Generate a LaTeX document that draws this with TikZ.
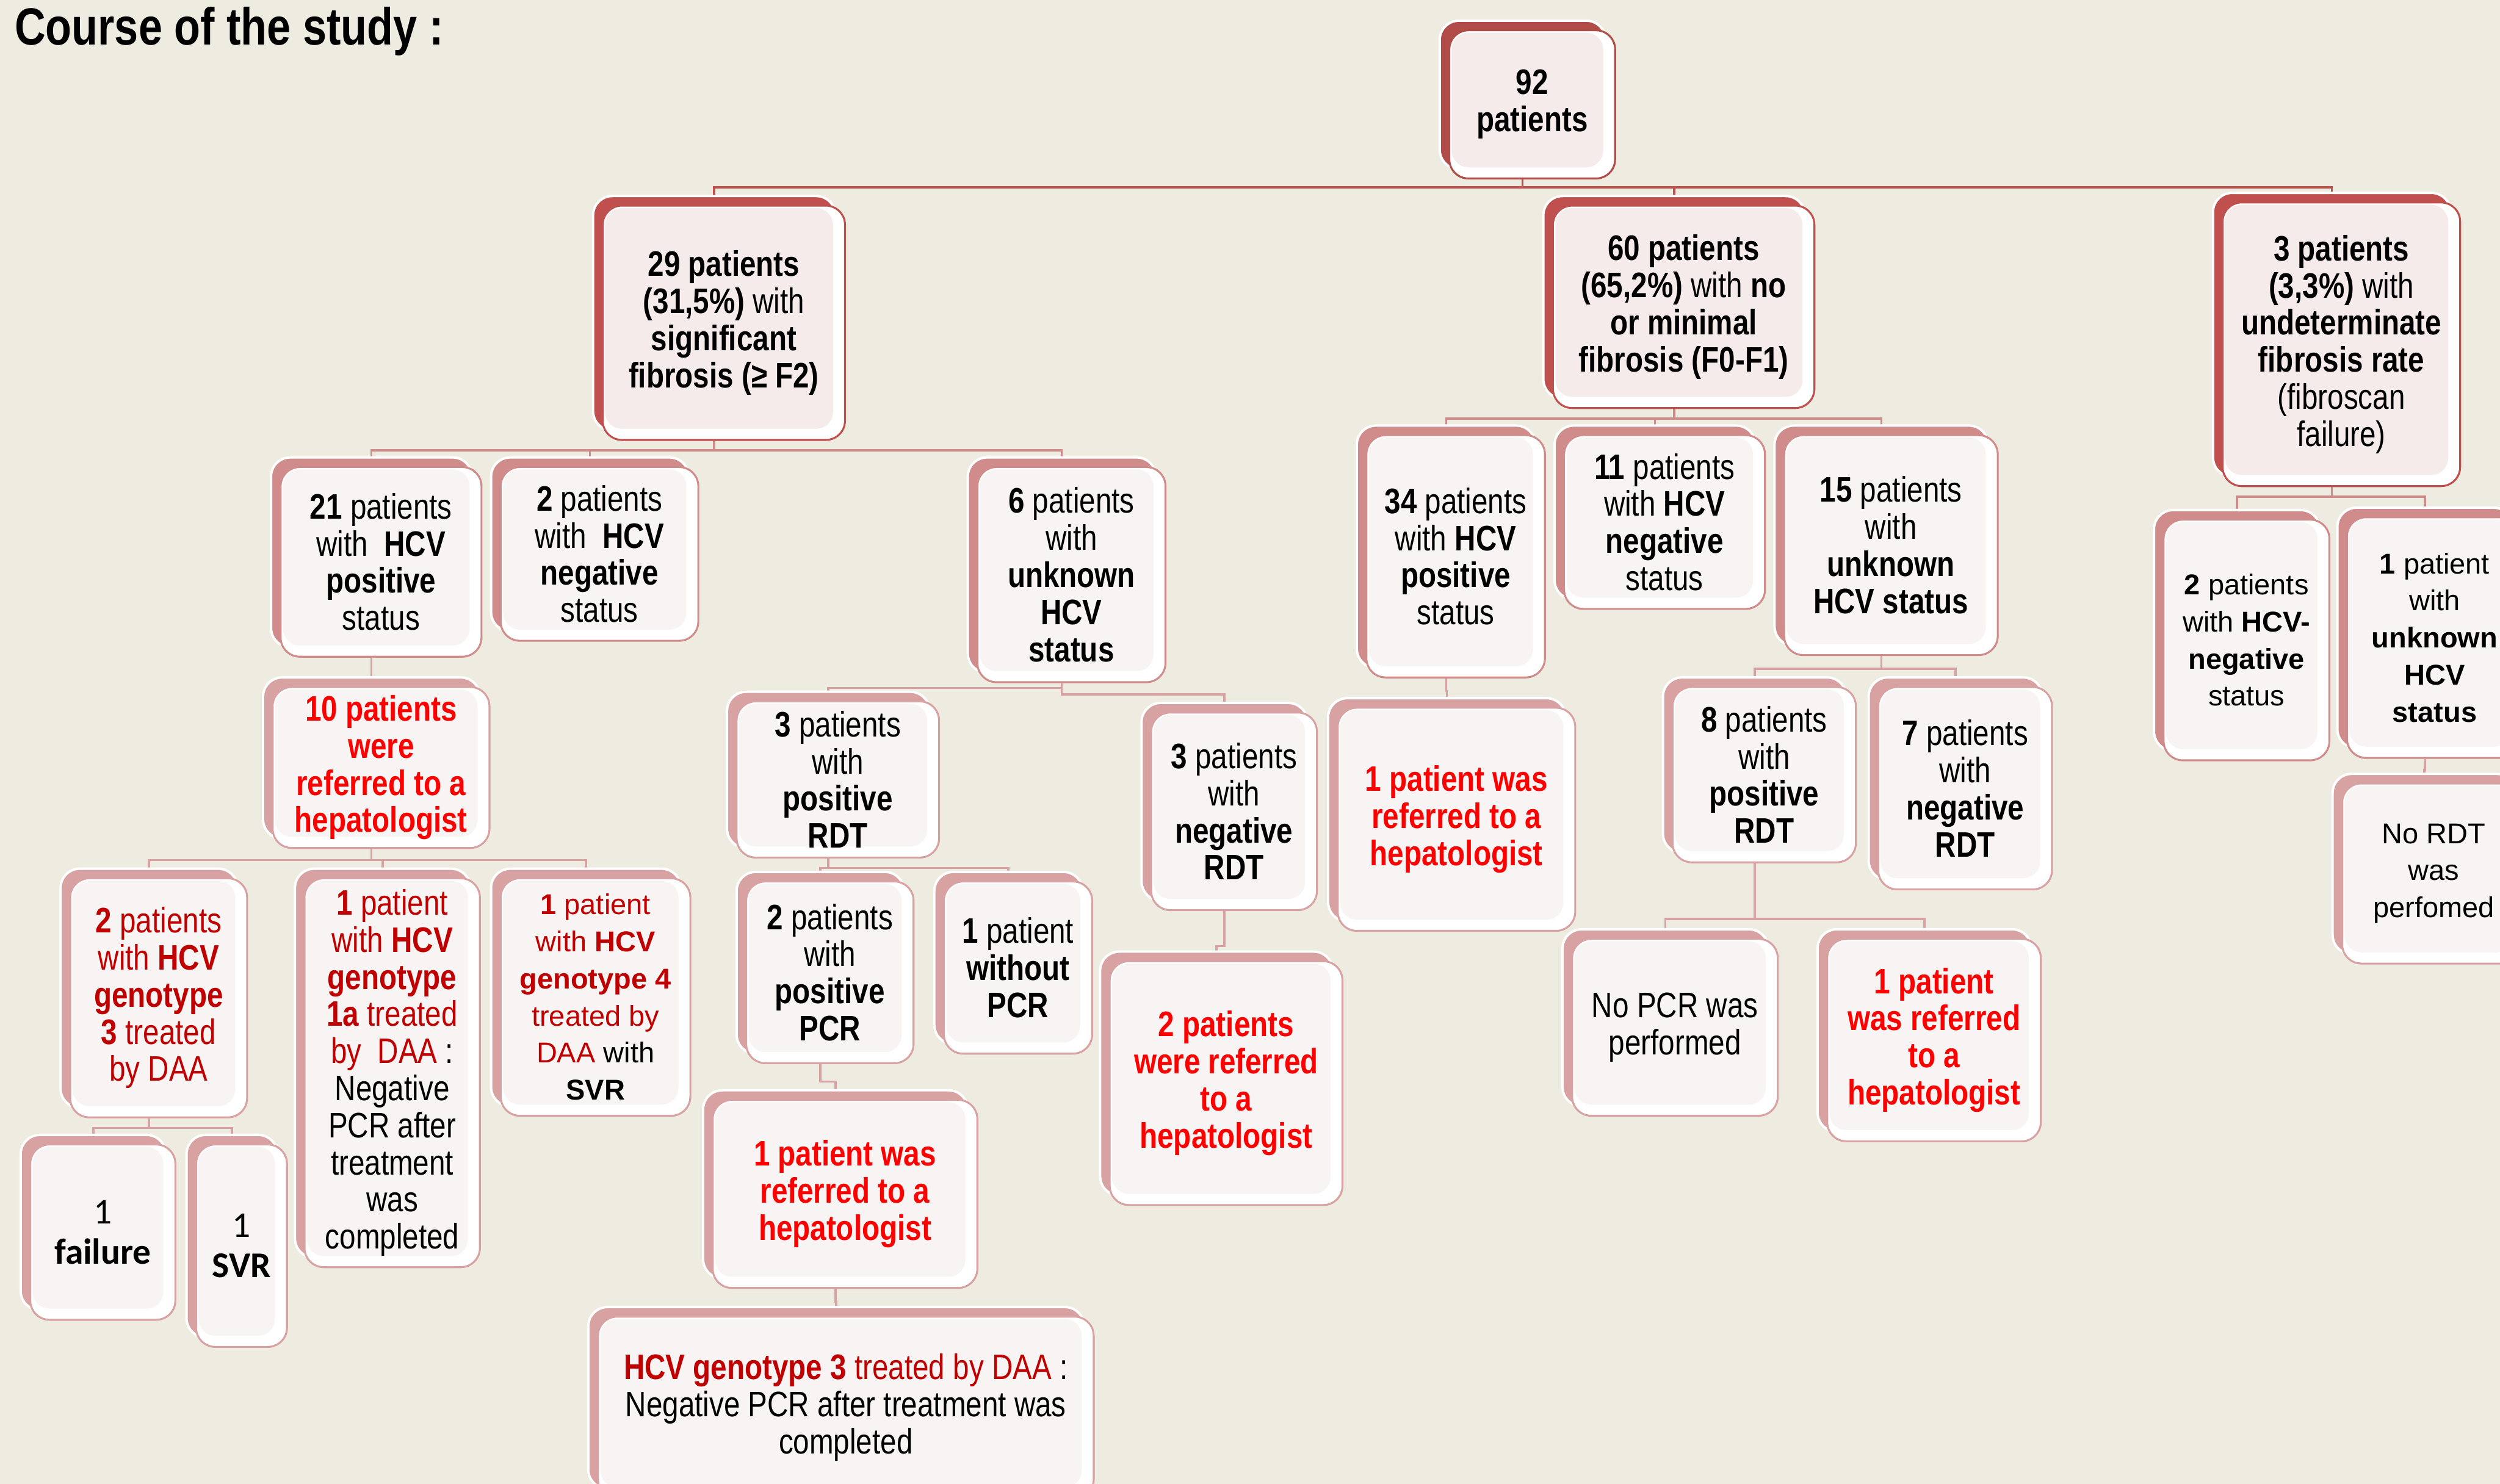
\documentclass[tikz,border=0pt]{standalone}
\usepackage{fontspec}
\setmainfont{Liberation Sans}[FakeStretch=0.82]
\newfontfamily\widefont{Liberation Sans}
\newfontfamily\califont{Carlito}
\usetikzlibrary{shadows}

\definecolor{paper}{HTML}{EEECE1}
\definecolor{topred}{HTML}{B04B48}
\definecolor{mainred}{HTML}{C0504D}
\definecolor{rosered}{HTML}{D08B8B}
\definecolor{palered}{HTML}{D8A2A2}
\definecolor{blush}{HTML}{F5EBEB}
\definecolor{mist}{HTML}{F8F4F4}
\definecolor{refred}{HTML}{FF0000}
\definecolor{genred}{HTML}{C00000}

\pgfdeclarelayer{bg}
\pgfdeclarelayer{wires}
\pgfsetlayers{bg,wires,main}

\tikzset{
  box/.style={line width=0.4mm, fill=white, rounded corners=4mm,
    inner sep=0pt, align=center, font=\fontsize{21}{22}\selectfont},
  back/.style={general shadow={fill=#1, draw=white, line width=0.5mm, shadow xshift=-2mm, shadow yshift=2mm}},
  core/.style={path picture={\fill[#1, rounded corners=3.5mm]
      ([shift={(1.5,-7)}]path picture bounding box.south west) rectangle
      ([shift={(-7.5,1.5)}]path picture bounding box.north east);}},
  toplev/.style={box, draw=topred, back=topred, core=blush},
  lev1/.style={box, draw=mainred, back=mainred, core=blush},
  lev2/.style={box, draw=rosered, back=rosered, core=mist},
  lev3/.style={box, draw=palered, back=palered, core=mist},
  bw/.style={minimum width=#1*0.33214mm},
  bh/.style={minimum height=#1*0.33214mm},
  wide/.style={font=\widefont\fontsize{17}{22}\selectfont},
  cali/.style={font=\califont\fontsize{21.5}{24}\selectfont},
  redbold/.style={text=refred, font=\fontsize{21}{22}\selectfont\bfseries},
  wire/.style={draw=#1, line width=0.45mm}
}

\begin{document}
\begin{tikzpicture}[x=0.033214cm, y=-0.033214cm]
    \useasboundingbox (0,0) rectangle (1568,931);
    \begin{pgfonlayer}{bg}
        \fill[paper] (0,0) rectangle (1568,931);
    \end{pgfonlayer}
    \clip (0,0) rectangle (1568,931);

    \node[anchor=base west, inner sep=0pt, font=\fontsize{31}{32}\selectfont\bfseries] (title) at (9,28) {Course of the study :};

    % top and fibrosis level
    \node[toplev, bw=104, bh=93] (n92) at (961,65.5) {\textbf{92}\\\textbf{patients}};
    \node[lev1, bw=152, bh=147] (n29) at (454,202.5) {\textbf{29 patients}\\\textbf{(31,5\%)} with\\\textbf{significant}\\\textbf{fibrosis (≥ F2)}};
    \node[lev1, bw=164, bh=127] (n60) at (1056,192.5) {\textbf{60 patients}\\\textbf{(65,2\%)} with \textbf{no}\\\textbf{or minimal}\\\textbf{fibrosis (F0-F1)}};
    \node[lev1, bw=149, bh=178] (n3u) at (1468.5,216) {\textbf{3 patients}\\\textbf{(3,3\%)} with\\\textbf{undeterminate}\\\textbf{fibrosis rate}\\(fibroscan\\failure)};

    % HCV status
    \node[lev2, bw=126, bh=119] (n21) at (239,352.5) {\textbf{21} patients\\with~~\textbf{HCV}\\\textbf{positive}\\status};
    \node[lev2, bw=124, bh=109] (n2neg) at (376,347.5) {\textbf{2} patients\\with~~\textbf{HCV}\\\textbf{negative}\\status};
    \node[lev2, bw=118, bh=135] (n6) at (672,360.5) {\textbf{6} patients\\with\\\textbf{unknown}\\\textbf{HCV}\\\textbf{status}};
    \node[lev2, bw=112, bh=152] (n34) at (913,349) {\textbf{34} patients\\with \textbf{HCV}\\\textbf{positive}\\status};
    \node[lev2, bw=126, bh=109] (n11) at (1044,327.5) {\textbf{11} patients\\with \textbf{HCV}\\\textbf{negative}\\status};
    \node[lev2, bw=134, bh=138] (n15) at (1186,342) {\textbf{15} patients\\with\\\textbf{unknown}\\\textbf{HCV status}};
    \node[lev2, wide, bw=104, bh=151] (n2hcvm) at (1409,401.5) {\textbf{2} patients\\with \textbf{HCV-}\\\textbf{negative}\\status};
    \node[lev2, wide, bw=110, bh=151] (n1unk) at (1527,400) {\textbf{1} patient\\with\\\textbf{unknown}\\\textbf{HCV}\\\textbf{status}};

    % RDT and referral
    \node[lev3, redbold, bw=136, bh=101] (n10) at (239,481.5) {10 patients\\were\\referred to a\\hepatologist};
    \node[lev3, bw=127, bh=98] (n3pos) at (525.5,489) {\textbf{3} patients\\with\\\textbf{positive}\\\textbf{RDT}};
    \node[lev3, bw=104, bh=124] (n3neg) at (774,509) {\textbf{3} patients\\with\\\textbf{negative}\\\textbf{RDT}};
    \node[lev3, redbold, bw=149, bh=140] (n1ref34) at (913.5,514) {1 patient was\\referred to a\\hepatologist};
    \node[lev3, bw=115, bh=110] (n8pos) at (1106.5,486) {\textbf{8} patients\\with\\\textbf{positive}\\\textbf{RDT}};
    \node[lev3, bw=109, bh=127] (n7neg) at (1232.5,494.5) {\textbf{7} patients\\with\\\textbf{negative}\\\textbf{RDT}};
    \node[lev3, wide, bw=115, bh=113] (nnordt) at (1526.5,548) {No RDT\\was\\perfomed};

    % genotype and PCR
    \node[lev3, text=genred, bw=111, bh=150] (n2gen3) at (99.5,626) {\textbf{2} patients\\with \textbf{HCV}\\\textbf{genotype}\\\textbf{3} treated\\by DAA};
    \node[lev3, bw=110, bh=244] (n1a) at (246,673) {\textcolor{genred}{\textbf{1} patient}\\\textcolor{genred}{with \textbf{HCV}}\\\textcolor{genred}{\textbf{genotype}}\\\textcolor{genred}{\textbf{1a} treated}\\\textcolor{genred}{by~~DAA} :\\Negative\\PCR after\\treatment\\was\\completed};
    \node[lev3, wide, bw=119, bh=149] (n1g4) at (373.5,625.5) {\textcolor{genred}{\textbf{1} patient}\\\textcolor{genred}{with \textbf{HCV}}\\\textcolor{genred}{\textbf{genotype 4}}\\\textcolor{genred}{treated by}\\\textcolor{genred}{DAA} with\\\textbf{SVR}};
    \node[lev3, bw=105, bh=114] (n2pcr) at (520.5,610) {\textbf{2} patients\\with\\\textbf{positive}\\\textbf{PCR}};
    \node[lev3, bw=93, bh=108] (n1wo) at (638.5,607) {\textbf{1} patient\\\textbf{without}\\\textbf{PCR}};
    \node[lev3, redbold, bw=146, bh=153] (n2ref) at (769,679.5) {2 patients\\were referred\\to a\\hepatologist};
    \node[lev3, bw=129, bh=111] (nnopcr) at (1050.5,644.5) {No PCR was\\performed};
    \node[lev3, redbold, bw=134, bh=127] (n1ref8) at (1213,652.5) {1 patient\\was referred\\to a\\hepatologist};

    % outcomes
    \node[lev3, cali, bw=91, bh=110] (nfail) at (64.5,773) {1\\\textbf{failure}};
    \node[lev3, cali, bw=57, bh=127] (nsvr) at (151.5,781.5) {1\\\textbf{SVR}};
    \node[lev3, redbold, bw=166, bh=118] (n1refpcr) at (530,749) {1 patient was\\referred to a\\hepatologist};
    \node[lev3, bw=311, bh=114] (nfinal) at (530.5,883) {\textcolor{genred}{\textbf{HCV genotype 3} treated by DAA} :\\Negative PCR after treatment was\\completed};

    \begin{pgfonlayer}{wires}
    \draw[wire=mainred] ([xshift=-2mm]n92.south) -- ++(0,5) -| ([xshift=-2mm]n29.north);
    \draw[wire=mainred] ([xshift=-2mm]n92.south) -- ++(0,5) -| ([xshift=-2mm]n60.north);
    \draw[wire=mainred] ([xshift=-2mm]n92.south) -- ++(0,5) -| ([xshift=-2mm]n3u.north);

    \draw[wire=rosered] ([xshift=-2mm]n29.south) -- ++(0,6) -| ([xshift=-2mm]n21.north);
    \draw[wire=rosered] ([xshift=-2mm]n29.south) -- ++(0,6) -| ([xshift=-2mm]n2neg.north);
    \draw[wire=rosered] ([xshift=-2mm]n29.south) -- ++(0,6) -| ([xshift=-2mm]n6.north);
    \draw[wire=rosered] ([xshift=-2mm]n60.south) -- ++(0,6) -| ([xshift=-2mm]n34.north);
    \draw[wire=rosered] ([xshift=-2mm]n60.south) -- ++(0,6) -| ([xshift=-2mm]n11.north);
    \draw[wire=rosered] ([xshift=-2mm]n60.south) -- ++(0,6) -| ([xshift=-2mm]n15.north);
    \draw[wire=rosered] ([xshift=-2mm]n3u.south) -- ++(0,6) -| ([xshift=-2mm]n2hcvm.north);
    \draw[wire=rosered] ([xshift=-2mm]n3u.south) -- ++(0,6) -| ([xshift=-2mm]n1unk.north);

    \draw[wire=palered] ([xshift=-2mm]n21.south) -- ++(0,8) -| ([xshift=-2mm]n10.north);
    \draw[wire=palered] ([xshift=-2mm]n6.south) -- ++(0,3) -| ([xshift=-2mm]n3pos.north);
    \draw[wire=palered] ([xshift=-2mm]n6.south) -- ++(0,7) -| ([xshift=-2mm]n3neg.north);
    \draw[wire=palered] ([xshift=-2mm]n34.south) -- ++(0,8) -| ([xshift=-2mm]n1ref34.north);
    \draw[wire=palered] ([xshift=-2mm]n15.south) -- ++(0,8) -| ([xshift=-2mm]n8pos.north);
    \draw[wire=palered] ([xshift=-2mm]n15.south) -- ++(0,8) -| ([xshift=-2mm]n7neg.north);
    \draw[wire=palered] ([xshift=-2mm]n1unk.south) -- ++(0,7) -| ([xshift=-2mm]nnordt.north);

    \draw[wire=palered] ([xshift=-2mm]n10.south) -- ++(0,7) -| ([xshift=-2mm]n2gen3.north);
    \draw[wire=palered] ([xshift=-2mm]n10.south) -- ++(0,7) -| ([xshift=-2mm]n1a.north);
    \draw[wire=palered] ([xshift=-2mm]n10.south) -- ++(0,7) -| ([xshift=-2mm]n1g4.north);
    \draw[wire=palered] ([xshift=-2mm]n3pos.south) -- ++(0,6) -| ([xshift=-2mm]n2pcr.north);
    \draw[wire=palered] ([xshift=-2mm]n3pos.south) -- ++(0,6) -| ([xshift=-2mm]n1wo.north);
    \draw[wire=palered] ([xshift=-2mm]n3neg.south) -- ++(0,22) -| ([xshift=-2mm]n2ref.north);
    \draw[wire=palered] ([xshift=-2mm]n8pos.south) -- ++(0,35) -| ([xshift=-2mm]nnopcr.north);
    \draw[wire=palered] ([xshift=-2mm]n8pos.south) -- ++(0,35) -| ([xshift=-2mm]n1ref8.north);

    \draw[wire=palered] ([xshift=-2mm]n2gen3.south) -- ++(0,6) -| ([xshift=-2mm]nfail.north);
    \draw[wire=palered] ([xshift=-2mm]n2gen3.south) -- ++(0,6) -| ([xshift=-2mm]nsvr.north);
    \draw[wire=palered] ([xshift=-2mm]n2pcr.south) -- ++(0,11) -| ([xshift=-2mm]n1refpcr.north);
    \draw[wire=palered] ([xshift=-2mm]n1refpcr.south) -- ++(0,8) -| ([xshift=-2mm]nfinal.north);
    \end{pgfonlayer}
\end{tikzpicture}
\end{document}
